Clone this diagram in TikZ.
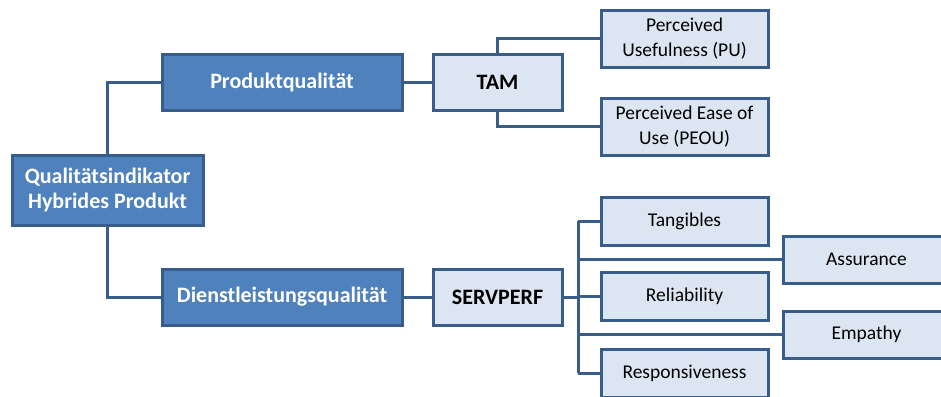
\documentclass[tikz,border=0pt]{standalone}
\usepackage{fontspec}
\setmainfont{Carlito}
\definecolor{topfill}{HTML}{4F81BD}
\definecolor{topline}{HTML}{385D8A}
\definecolor{subfill}{HTML}{DCE6F2}
\begin{document}
\begin{tikzpicture}[x=1pt, y=-1pt,
    every node/.style={draw=topline, line width=3pt, align=center, inner sep=0pt,
        font=\fontsize{19.5}{25}\selectfont},
    topbox/.style={fill=topfill, text=white, font=\fontsize{22}{25}\selectfont\bfseries},
    subbox/.style={fill=subfill, text=black},
    boldsub/.style={subbox, font=\fontsize{22}{25}\selectfont\bfseries},
    link/.style={draw=topline, line width=3pt}]
    \useasboundingbox (0,0) rectangle (941,396);
    % main boxes
    \node[topbox, minimum width=191, minimum height=70] (root) at (107.5,190.5) {Qualitätsindikator\\Hybrides Produkt};
    \node[topbox, minimum width=240, minimum height=55] (pq) at (282,82.5) {Produktqualität};
    \node[topbox, minimum width=240, minimum height=56] (dq) at (282,297) {Dienstleistungsqualität};
    \node[boldsub, minimum width=129, minimum height=55] (tam) at (497.5,82.5) {TAM};
    \node[boldsub, minimum width=129, minimum height=56] (servperf) at (497.5,297) {SERVPERF};
    % leaves
    \node[subbox, minimum width=167, minimum height=56] (pu) at (684.5,39) {Perceived\\Usefulness (PU)};
    \node[subbox, minimum width=167, minimum height=57] (peou) at (684.5,126.5) {Perceived Ease of\\Use (PEOU)};
    \node[subbox, minimum width=167, minimum height=48] (tang) at (684.5,221) {Tangibles};
    \node[subbox, minimum width=167, minimum height=47] (assur) at (866.5,259.5) {Assurance};
    \node[subbox, minimum width=167, minimum height=48] (rel) at (684.5,296) {Reliability};
    \node[subbox, minimum width=167, minimum height=47] (emp) at (866.5,334.5) {Empathy};
    \node[subbox, minimum width=167, minimum height=48] (resp) at (684.5,373) {Responsiveness};
    \coordinate (bus) at (578,297);
    % connectors
    \draw[link] (root.north) |- (pq.west);
    \draw[link] (root.south) |- (dq.west);
    \draw[link] (pq.east) -- (tam.west);
    \draw[link] (dq.east) -- (servperf.west);
    \draw[link] (tam.north) |- (pu.west);
    \draw[link] (tam.south) |- (peou.west);
    \draw[link] (servperf.east) -- (bus);
    \draw[link] (bus |- tang.west) -- (bus |- resp.west);
    \foreach \leaf in {tang, assur, rel, emp, resp}
        \draw[link] (bus |- \leaf.west) -- (\leaf.west);
\end{tikzpicture}
\end{document}
